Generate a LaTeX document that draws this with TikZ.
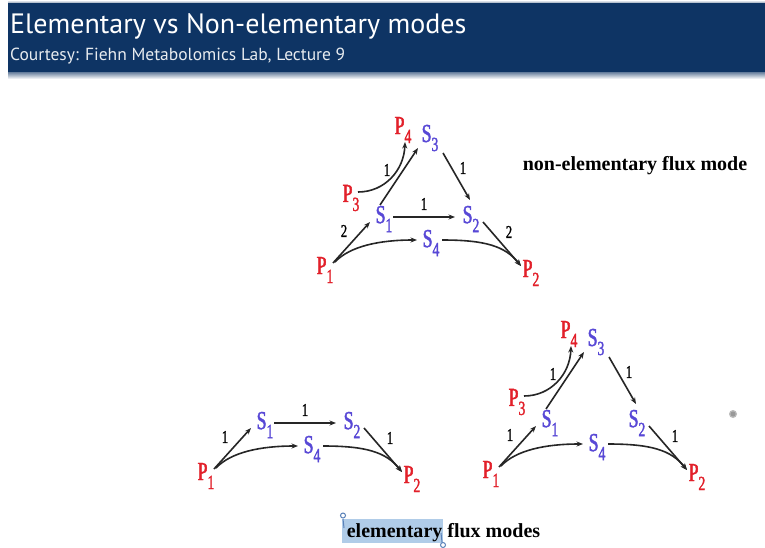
\documentclass[tikz,border=0pt]{standalone}
\usepackage{fontspec}
\setmainfont{Liberation Serif}
\newfontfamily\lblfont[FakeStretch=0.68,FakeBold=1.6]{Liberation Serif}
\newfontfamily\numfont[FakeStretch=0.7,FakeBold=1.2]{Liberation Serif}
\newfontfamily\titlefont{PT Sans}
\usetikzlibrary{calc,arrows.meta}
\definecolor{scol}{RGB}{88,72,214}
\definecolor{pcol}{RGB}{226,32,42}
\definecolor{band}{RGB}{14,52,100}
\definecolor{hl}{RGB}{176,204,232}
\definecolor{hlh}{RGB}{90,130,185}

\newcommand{\Sl}[1]{\textcolor{scol}{S\raisebox{-9pt}{\fontsize{20}{20}\selectfont #1}}}
\newcommand{\Pl}[1]{\textcolor{pcol}{P\raisebox{-9pt}{\fontsize{20}{20}\selectfont #1}}}

\tikzset{
 met/.style={inner sep=0pt, font=\lblfont\fontsize{26}{26}\selectfont},
 num/.style={inner sep=0pt, font=\numfont\fontsize{18}{18}\selectfont},
 rx/.style={line width=1.6pt, draw=black!85, -{Stealth[length=6.5pt,width=5pt]}},
}

% base network: prefix, x, y of S1, label P1->S1, label S2->P2
\newcommand{\basenet}[5]{%
 \coordinate (#1o) at (#2,#3);
 \node[met] (#1S1) at (#1o) {\Sl{1}};
 \node[met] (#1S2) at ($(#1o)+(87,0)$) {\Sl{2}};
 \node[met] (#1S4) at ($(#1o)+(47,24)$) {\Sl{4}};
 \node[met] (#1P1) at ($(#1o)+(-59,51)$) {\Pl{1}};
 \node[met] (#1P2) at ($(#1o)+(147,54)$) {\Pl{2}};
 \draw[rx] ($(#1P1)+(8,-7)$) -- ($(#1S1)+(-14,3)$);
 \draw[rx] ($(#1P1)+(10,-8)$) .. controls ($(#1P1)+(25,-24)$) and ($(#1S4)+(-51,-3)$) .. ($(#1S4)+(-14,-3)$);
 \draw[rx] ($(#1S4)+(11,-3)$) .. controls ($(#1S4)+(54,-3)$) and ($(#1P2)+(-26,-27)$) .. ($(#1P2)+(-10,-7)$);
 \draw[rx] ($(#1S2)+(12,3)$) -- ($(#1P2)+(-10,-7)$);
 \node[num] (#1la) at ($(#1S1)+(-40,12)$) {#4};
 \node[num] (#1lb) at ($(#1S1)+(125,13)$) {#5};
}
% S1 -> S2
\newcommand{\sonetwo}[2]{%
 \draw[rx] ($(#1S1)+(9,-2)$) -- ($(#1S2)+(-16,-2)$);
 \node[num] (#1lc) at ($(#1S1)+(40,-15)$) {#2};
}
% upper part with S3, P3, P4
\newcommand{\topnet}[1]{%
 \node[met] (#1S3) at ($(#1o)+(46,-81)$) {\Sl{3}};
 \node[met] (#1P3) at ($(#1o)+(-33,-21)$) {\Pl{3}};
 \node[met] (#1P4) at ($(#1o)+(19,-89)$) {\Pl{4}};
 \draw[rx] ($(#1P3)+(7,-6)$) .. controls ($(#1P3)+(34,-6)$) and ($(#1P4)+(1,40)$) .. ($(#1P4)+(2,12)$);
 \draw[rx] ($(#1S1)+(-4,-14)$) -- ($(#1S3)+(-12,10)$);
 \draw[rx] ($(#1S3)+(13,15)$) -- ($(#1S2)+(-1,-19)$);
 \node[num] (#1ld) at ($(#1S1)+(3,-49)$) {1};
 \node[num] (#1le) at ($(#1S1)+(79,-51)$) {1};
}

\begin{document}
\begin{tikzpicture}[x=1pt,y=-1pt]
\useasboundingbox[fill=white] (0,0) rectangle (765,548);
% header band
\shade[top color=white, bottom color=band!45] (8,0) rectangle (765,3);
\fill[band] (8,3) rectangle (765,73);
\shade[top color=band!55, bottom color=white] (8,73) rectangle (765,79);
\node[anchor=base west, inner sep=0pt, text=white, font=\titlefont\fontsize{28}{28}\selectfont] (title) at (10,34) {Elementary vs Non-elementary modes};
\node[anchor=base west, inner sep=0pt, text=white!90!band, font=\titlefont\fontsize{17.5}{17.5}\selectfont] (subtitle) at (10,61) {Courtesy: Fiehn Metabolomics Lab, Lecture 9};

% top: non-elementary
\basenet{t}{384}{219}{2}{2}
\sonetwo{t}{1}
\topnet{t}
\node[anchor=base, inner sep=0pt, font=\bfseries\fontsize{20}{20}\selectfont] (ne) at (635,171) {non-elementary flux mode};

% bottom left
\basenet{l}{265}{425}{1}{1}
\sonetwo{l}{1}

% bottom right
\basenet{r}{550}{423}{1}{1}
\topnet{r}

% highlight and caption
\fill[hl] (342,519) rectangle (443,543);
\node[anchor=base, inner sep=0pt, font=\bfseries\fontsize{20}{20}\selectfont] (el) at (443.5,537) {elementary flux modes};
\draw[hlh, line width=1pt] (343,519) -- (344,528);
\draw[hlh, line width=1pt] (343,515.5) circle (2.5);
\draw[hlh, line width=1pt] (441,533) -- (442,542);
\draw[hlh, line width=1pt] (443,545) circle (2.5);
% cursor dot
\fill[gray!55] (733,414) circle (4);
\fill[gray!80] (733,414) circle (2.5);
\end{tikzpicture}
\end{document}
